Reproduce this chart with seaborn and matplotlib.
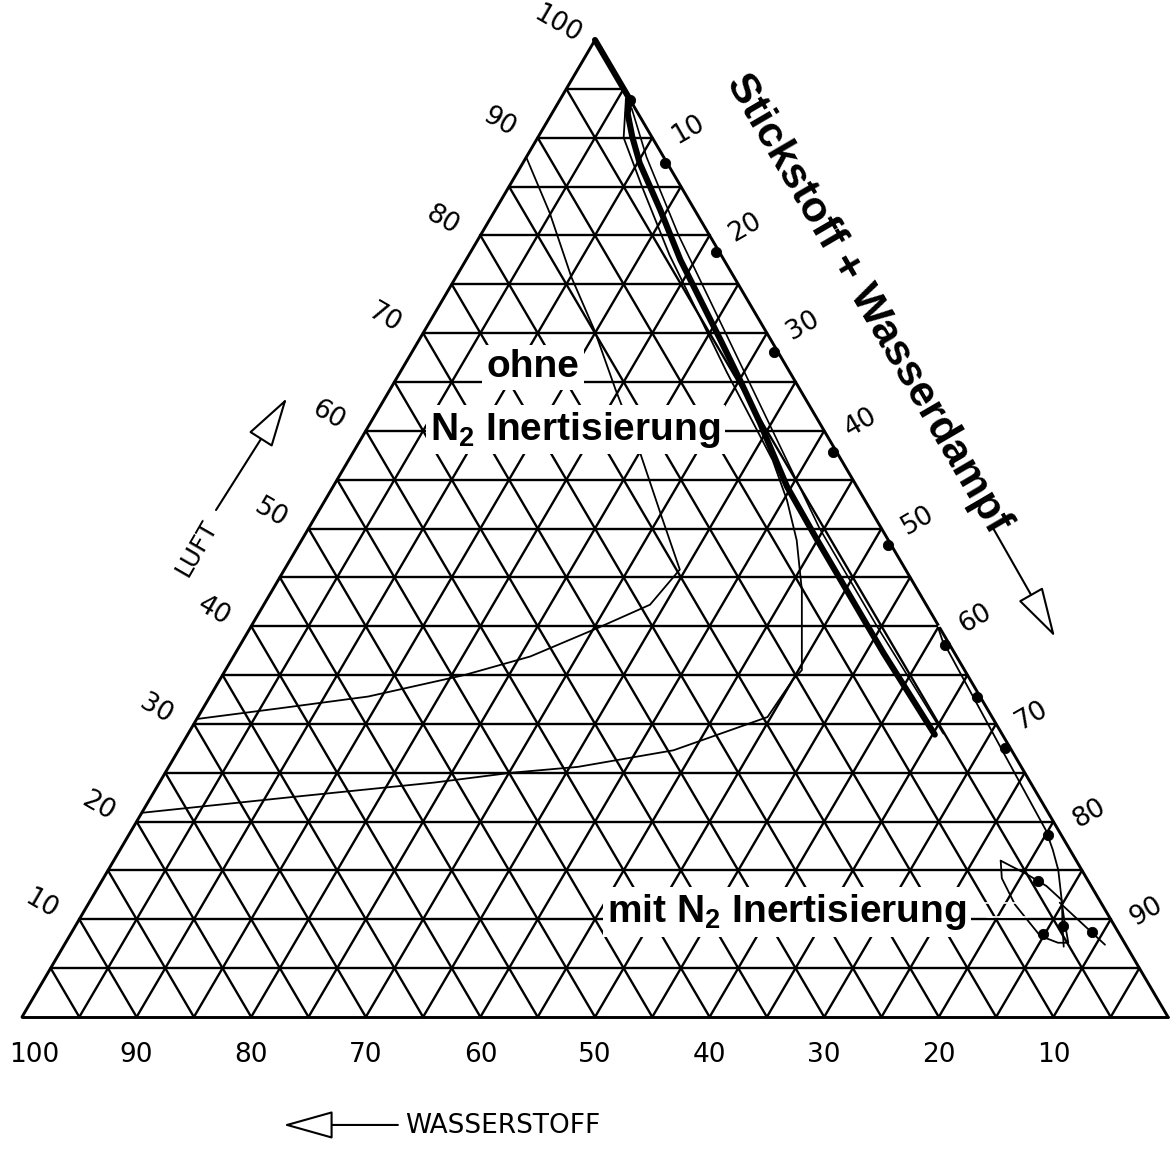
import numpy as np
import matplotlib
matplotlib.use('Agg')
import matplotlib.pyplot as plt
import seaborn as sns

sns.set_style('white')
plt.rcParams['font.family'] = ['DejaVu Sans']
plt.rcParams['text.color'] = 'black'
plt.rcParams['mathtext.fontset'] = 'custom'
plt.rcParams['mathtext.rm'] = 'Liberation Sans:bold'
plt.rcParams['mathtext.default'] = 'rm'

# Achsenbeschriftung (Prozent)
unten_ticks = [100, 90, 80, 70, 60, 50, 40, 30, 20, 10]      # Wasserstoff
links_ticks = [10, 20, 30, 40, 50, 60, 70, 80, 90, 100]      # Luft
rechts_ticks = [10, 20, 30, 40, 50, 60, 70, 80, 90]          # Stickstoff + Wasserdampf

# dicke Kurve (H2 %, Luft %)
dick_h2 = [0, 0, 0.9, 1.7, 2.4, 3.0, 3.8, 4.1, 4.4, 4.75, 5.2, 6.1, 6.2, 6.2, 6.2, 6.0, 5.9]
dick_luft = [100, 93.9, 92.5, 90.1, 87.4, 82.6, 77.5, 73.4, 69.3, 65.2, 60.8, 54.3, 48.8, 43.0, 37.3, 31.7, 28.9]

# ohne N2 - innere Kurve
innen_h2 = [12.0, 12.8, 14.2, 14.9, 16.1, 17.2, 18.5, 19.7, 24.1, 29.9, 37.2, 43.9, 53.4, 61.7, 69.5]
innen_luft = [88.0, 82.3, 75.7, 70.3, 64.2, 57.7, 51.6, 45.8, 42.2, 39.8, 36.9, 35.0, 32.8, 31.6, 30.5]

# ohne N2 - aeussere Kurve
aussen_h2 = [0.3, 2.5, 3.4, 4.5, 5.0, 5.5, 6.0, 6.8, 8.0, 10.1, 14.2, 15.5, 19.6, 29.5, 38.7, 44.8, 52.0, 65.3, 79.1]
aussen_luft = [94.0, 90.0, 85.0, 78.0, 72.0, 66.0, 57.0, 52.9, 48.8, 43.7, 35.5, 34.5, 30.7, 27.3, 25.6, 25.0, 24.0, 22.5, 20.9]

# duenne Kurve rechts neben der dicken
neben_h2 = [0.3, 1.5, 2.7, 3.6, 4.5, 5.4, 5.4, 5.1]
neben_luft = [93.0, 88.0, 80.0, 70.0, 60.0, 50.0, 40.0, 29.0]

# mit N2 Inertisierung
mit_h2 = [0.1, 0.4, 0.8, 1.1, 1.5, 2.05, 3.4, 4.6, 5.5]
mit_luft = [40.0, 38.6, 27.8, 19.1, 17.1, 15.05, 11.7, 9.2, 7.2]
schleife_h2 = [6.6, 5.0, 3.9, 3.3, 4.1, 4.9, 5.8, 7.0, 7.6, 7.4, 6.6]
schleife_luft = [16.0, 14.6, 13.4, 12.0, 9.9, 7.6, 7.6, 8.3, 11.5, 14.2, 16.0]
strich_h2 = [3.6, 1.8]
strich_luft = [11.7, 7.4]

# Messpunkte
punkte_h2 = [0, 0.2, 0.3, 0.3, 0.3, 0.3, 0.4, 0.3, 0.5, 1.2, 4.4, 4.5, 6.7, 2.3]
punkte_luft = [93.9, 87.4, 78.3, 68.1, 57.8, 48.3, 38.1, 32.75, 27.5, 18.6, 13.9, 9.3, 8.5, 8.7]


def tern(h2, luft):
    h2 = np.asarray(h2, float)
    luft = np.asarray(luft, float)
    return 100 - h2 - luft / 2, luft


fig = plt.figure(figsize=(11.7, 11.52), dpi=100)
ax = fig.add_axes([22 / 1170, 135 / 1152, 1146 / 1170, 977 / 1152])
ax.set_xlim(0, 100)
ax.set_ylim(0, 100)
ax.axis('off')

# Dreiecksgitter alle 5 %
for k in range(0, 101, 5):
    lw = 2.1 if k == 0 else 1.7
    for h, l in [([100 - k, 0], [k, k]),
                 ([k, k], [0, 100 - k]),
                 ([100 - k, 0], [0, 100 - k])]:
        x, y = tern(h, l)
        ax.plot(x, y, color='black', lw=lw, zorder=1, clip_on=False)

# Kurven
kurven = [(dick_h2, dick_luft, 4.4), (innen_h2, innen_luft, 1.3),
          (aussen_h2, aussen_luft, 1.3), (neben_h2, neben_luft, 1.2),
          (mit_h2, mit_luft, 1.3), (schleife_h2, schleife_luft, 1.3),
          (strich_h2, strich_luft, 1.3)]
for h, l, lw in kurven:
    x, y = tern(h, l)
    sns.lineplot(x=x, y=y, sort=False, estimator=None, color='black',
                 linewidth=lw, legend=False, ax=ax, zorder=3, clip_on=False)

px, py = tern(punkte_h2, punkte_luft)
sns.scatterplot(x=px, y=py, color='black', s=55, edgecolor='black',
                legend=False, ax=ax, zorder=5, clip_on=False)

# Achsenzahlen
for v in unten_ticks:
    x, y = tern(v, 0)
    ax.annotate(str(v), (x, y), xytext=(12 if v == 100 else 0, -38),
                textcoords='offset pixels', ha='center', va='center',
                fontsize=19, annotation_clip=False)
for v in links_ticks:
    x, y = tern(100 - v, v)
    ax.annotate(str(v), (x, y), xytext=(-38, 15), textcoords='offset pixels',
                ha='center', va='center', fontsize=19, rotation=-30,
                annotation_clip=False)
for v in rechts_ticks:
    x, y = tern(0, 100 - v)
    strich = dict(arrowstyle='-', lw=1.2, shrinkA=2, shrinkB=0) if v == 60 else None
    ax.annotate(str(v), (x, y), xytext=(36, 8), textcoords='offset pixels',
                ha='center', va='center', fontsize=19, rotation=30,
                arrowprops=strich, annotation_clip=False)

# Beschriftungen
fett = dict(family='Liberation Sans', fontweight='bold', zorder=4)
box = dict(boxstyle='square,pad=0.12', fc='white', ec='none')
ax.text(73.8, 73.0, 'Stickstoff + Wasserdampf', rotation=-59.7, fontsize=31,
        ha='center', va='center', **fett)
ax.text(44.6, 66.5, 'ohne', fontsize=28, ha='center', va='center', bbox=box, **fett)
ax.text(48.3, 60.1, r'N$_2$ Inertisierung', fontsize=28, ha='center', va='center',
        bbox=box, **fett)
ax.text(66.75, 10.75, r'mit N$_2$ Inertisierung', fontsize=28, ha='center',
        va='center', bbox=box, **fett)

for a, b in [((83.6, 11.67), (87.1, 11.67)), ((84.2, 10.24), (87.7, 10.24))]:
    ax.annotate('', xy=b, xytext=a, arrowprops=dict(arrowstyle='-', lw=1.2,
                shrinkA=0, shrinkB=0), annotation_clip=False)

pfeil = dict(arrowstyle='-|>,head_length=1.6,head_width=0.45', fc='white',
             ec='black', lw=1.5, mutation_scale=20, shrinkA=0, shrinkB=0)
ax.annotate('', xy=(90.14, 38.9), xytext=(84.73, 50.05), arrowprops=pfeil,
            annotation_clip=False)
ax.annotate('', xy=(23.12, 63.36), xytext=(16.93, 51.89), arrowprops=pfeil,
            annotation_clip=False)
ax.annotate('', xy=(22.8, -11.05), xytext=(32.8, -11.05), arrowprops=pfeil,
            annotation_clip=False)
ax.text(15.27, 48.0, 'LUFT', rotation=60, fontsize=18, ha='center', va='center')
ax.text(33.42, -11.2, 'WASSERSTOFF', fontsize=19, ha='left', va='center')

fig.savefig('out.png', dpi=100, facecolor='white')
